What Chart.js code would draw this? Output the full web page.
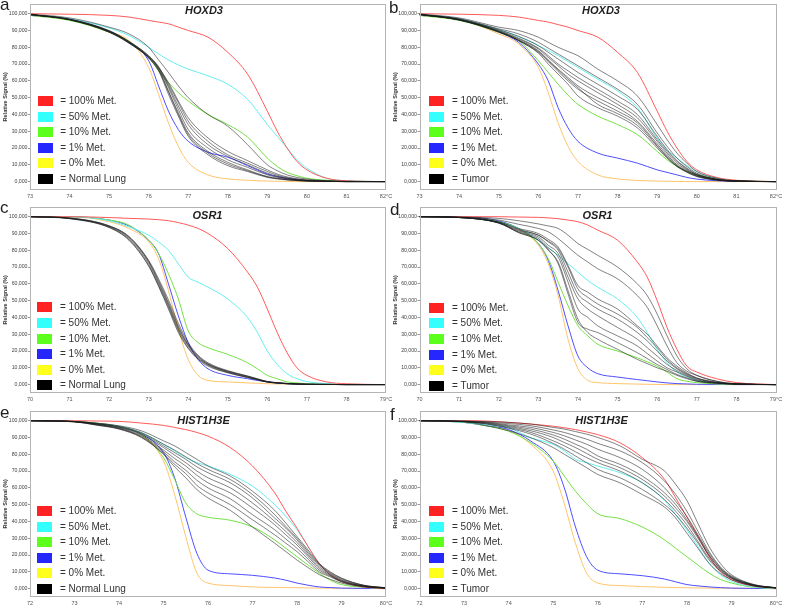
<!DOCTYPE html>
<html>
<head>
<meta charset="utf-8">
<script src="https://cdn.jsdelivr.net/npm/chart.js@4.4.1/dist/chart.umd.min.js"></script>
<style>
html,body{margin:0;padding:0;background:#fff;}
body{width:787px;height:612px;position:relative;overflow:hidden;font-family:"Liberation Sans",Arial,sans-serif;}
canvas{position:absolute;}
.letter{position:absolute;font-size:17px;line-height:17px;color:#1e1e1e;}
.title{position:absolute;font-weight:bold;font-style:italic;font-size:11px;line-height:11px;color:#1e1e1e;white-space:nowrap;transform:translateX(-50%);}
.sw{position:absolute;width:15px;height:10px;}
.lab{position:absolute;font-size:10px;line-height:10px;color:#333;white-space:nowrap;}
</style>
</head>
<body>
<script>
// temperature grids (°C)
const hoxTemps  = [73,74,75,75.5,76,76.25,76.5,76.75,77,77.5,78,78.5,79,79.25,79.5,79.75,80,80.5,81,82];
const osrTemps  = [70,71,72,72.5,73,73.25,73.5,73.75,74,74.25,74.5,75,75.5,75.75,76,76.25,76.5,76.75,77,77.5,78,79];
const histTemps = [72,73,73.5,74,74.5,75,75.25,75.5,75.75,76,76.5,77,77.5,77.75,78,78.25,78.5,78.75,79,79.5,80];

// a: HOXD3 normal lung
const aRed    = [100,99.7,99,98,96,95,94,92,90,86,77,64,42,30,20,12,7,2,0.5,0];
const aCyan   = [99.5,97,91.5,87,80,76,72.5,69.5,67,63,58,49,34,27,20,13,8,2,0.5,0];
const aGreen  = [99,96,89,83.5,74,66,59,53,48,40,34,26.5,14,9,5.5,3.5,2,0.8,0.3,0];
const aBlue   = [99,96.5,89.5,83,72,57,42,31,24,17.5,14.5,9.5,4.5,3,1.8,1,0.6,0.2,0,0];
const aYellow = [99,96.5,89,84,68,52,35,21,11.5,4,1.6,0.8,0.3,0.2,0.1,0,0,0,0,0];
const aSamples = [
  [99.5,96.5,89.5,83,74.5,68,57,45,34,22,15,10,5,3.2,2,1.2,0.7,0.3,0,0],
  [99.5,96.5,89,82.5,74,67,54,41,29,18,11.5,7,3,2,1.2,0.7,0.4,0.1,0,0],
  [99.5,96.8,90,83.5,75,68.5,58,47,36,24,16,11,6,3.8,2.3,1.4,0.8,0.3,0.1,0],
  [99.5,96.3,89,82.5,73.5,66,52,39,27,16,9.5,6,2.5,1.6,1,0.6,0.3,0.1,0,0],
  [99.5,96.6,89.6,83.2,74.2,67.5,56,43,31,20,13,8.5,4,2.6,1.6,1,0.5,0.2,0,0],
  [99.5,96.4,89.2,82.8,73.8,66.5,53.5,40,28,17,10.5,6.5,2.8,1.8,1.1,0.6,0.3,0.1,0,0],
  [99.5,96.7,89.8,83.5,74.8,68,59,48,38,26,18,12.5,7,4.5,2.8,1.7,1,0.4,0.1,0],
  [99.8,97.5,92,88,80,72.5,65,57,50,40,33,22,10,6.5,4,2.5,1.5,0.5,0.1,0]
];

// b: HOXD3 tumor
const bRed    = [100,99.7,99,98,96,95,93.5,92,90,86,77,65,42,30,20,12,7,2.5,0.8,0];
const bCyan   = [99.5,97,90.5,86.5,81,78,75,71.5,68,61,54,44,26,19,14,9.5,6,2,0.5,0];
const bGreen  = [99,96,89,84,72,65,58,51.5,46,39,34,28,18,13,9,6,4,1.5,0.5,0];
const bBlue   = [99,96.5,89,83,70,60,44,32,24,17,14,11,7,5.5,4,2.5,1.5,0.5,0.1,0];
const bYellow = [99,96.5,88,82,68,53,35,21,12,4,1.6,0.7,0.3,0.2,0.1,0,0,0,0,0];
const bSamples = [
  [99.8,97.5,92,90,86,83,80,77.5,75,67,60,51,34,25,17,11,6,2,0.5,0],
  [99.7,97,91,88,83,79.5,76,72.5,69,62,55,46,29,21,14,9,5,1.5,0.4,0],
  [99.6,96.8,90.5,86.5,81,77,73,69,65,58,51,43,27,19,12.5,8,4.5,1.4,0.4,0],
  [99.5,96.5,90,85.5,79.5,75,70,66,62,55,48,40,25,18,12,7.5,4.2,1.3,0.3,0],
  [99.5,96.5,89.8,85,79,74,69,64,60,53,46,38,24,17,11,7,4,1.2,0.3,0],
  [99.5,96.4,89.5,84.5,78,72.5,67,62,57,50,44,36,22.5,16,10,6.5,3.7,1.1,0.3,0],
  [99.5,96.3,89.3,84,77,71.5,65.5,60,55,48,42,35,21.5,15,9.5,6,3.4,1,0.3,0],
  [99.5,96.2,89,84,76.5,70,64,58,51,44,39,32,20,14,9,5.5,3,0.9,0.2,0],
  [99.5,96.3,89.2,84.2,77.5,72,66.5,61,56,46,40.5,33.5,21,14.5,9.2,5.8,3.2,1,0.3,0]
];

// c: OSR1 normal lung
const cRed    = [100,100,99.5,99,98.6,98.2,97.6,96.5,95,93,90,81,67,58,45,31,19,10,5.5,1.6,0.5,0];
const cCyan   = [100,100,97.6,94,89,85,80,72,64,61,58,51,40,31,20,12,6.5,3.5,1.8,0.6,0.2,0];
const cGreen  = [100,100,98,95,86,78,66,51,32,25,22,18,13,9.4,5.5,3.5,1.6,1,0.5,0.2,0.1,0];
const cBlue   = [100,100,98,94.5,86,78,60,41,25,15,9.4,5.5,3.5,2.5,1.6,1,0.5,0.3,0.2,0.1,0,0];
const cYellow = [100,100,97,93,85,75,56,33,15,5.5,2.5,1.6,1,0.8,0.5,0.4,0.3,0.2,0.1,0,0,0];
const cSamples = [
  [100,99.2,94.5,88,73.5,62,49,35,24,17,12.5,8,5,3.3,1.8,1.1,0.7,0.4,0.2,0.1,0,0],
  [100,98.8,93.5,86,70.5,58.5,45,31,21.5,15,11,7,4.2,2.8,1.5,0.9,0.5,0.3,0.2,0.1,0,0],
  [100,99,94,87,72,60,47,33,23,16,12,7.5,4.5,3,1.6,1,0.6,0.4,0.2,0.1,0,0],
  [100,99.1,94.3,87.6,73,61,48,34,23.5,16.5,12.2,7.8,4.8,3.2,1.7,1,0.6,0.4,0.2,0.1,0,0],
  [100,98.9,93.7,86.4,71,59,46,32,22,15.5,11.5,7.2,4.3,2.9,1.5,0.9,0.5,0.3,0.2,0.1,0,0],
  [100,99.2,94.6,88.3,74,63,50.5,36.5,25,17.5,13,8.3,5.2,3.5,1.9,1.2,0.7,0.4,0.2,0.1,0,0]
];

// d: OSR1 tumor
const dRed    = [100,100,100,99.8,99.6,99.3,98.8,98,97,95,92,86,73,64,50,34,21,11,7.5,3.5,1.2,0];
const dCyan   = [100,99.8,96.7,93,86,81.5,77,72,67,62,58,51,40,31,21,13,7.5,4.5,2.5,1,0.3,0];
const dGreen  = [100,99.8,97,93,84,75,61,47,35,29,24,20,16,13.5,11,7.5,3.5,2,1.2,0.4,0.1,0];
const dBlue   = [100,99.8,97.5,93,84,74,56,35,17,10,6.5,4.5,3,2.3,1.6,1,0.6,0.4,0.2,0.1,0,0];
const dYellow = [100,99.8,97,92.5,83,72,53,27,9.4,2.5,1.2,0.6,0.3,0.2,0.1,0,0,0,0,0,0,0];
const dSamples = [
  [100,99.8,99,97.6,95.7,94.5,93,89,84,80.5,77,70,60,53,42,29,17,9.4,5.5,2,0.5,0],
  [100,99.7,98,95.5,93,91,87,82,77,73,69,63,53,46,35,23,13,8,5.5,2,0.5,0],
  [100,99.6,97,93,90,86.5,82,71,59,55,51,45,35,30,23,16,11,7,4,1.5,0.4,0],
  [100,99.5,96.5,92,89,85,80,67,54,49,45,39,31,26,20,14,9.4,6,3.5,1.2,0.3,0],
  [100,99.5,96.5,91.5,88,83,78,64,51,45,41,34,27,22,17,12,8.4,5.5,3,1,0.3,0],
  [100,99.5,96.3,91,87,81.5,76,61,45,40,35,29,23,18.5,14,10,7.5,5,2.5,1,0.3,0],
  [100,99.5,96.2,90.5,86,80,73,56,39,31,27,21,15,12.5,10,8,5.5,3.5,2,0.8,0.3,0],
  [100,99.5,96.2,90.7,86,80.5,72,54,37,33,31,25,19,15.5,12,9,6,4,2,0.8,0.3,0],
  [100,99.6,96.8,92.5,89,85.5,81,70,57,52,48,42,34,28,22,15,10,6.5,3.8,1.3,0.3,0]
];

// e: HIST1H3E normal lung
const eRed    = [100,100,99.8,99.6,98.6,97.2,96,94.7,93,90.8,84,73,57,46,36,25,15,8,4.3,1,0];
const eCyan   = [100,99.5,98,96.7,92.7,86,82,78,75,73,68,61,50,43,35,25,15,8,4.3,1,0];
const eGreen  = [100,99.5,98.5,96.5,92,78,65,51,44.5,42.5,40.7,36.7,29,24,19,14,9.2,5,2.4,0.8,0];
const eBlue   = [100,99.5,98.5,96.5,92,81,66,42.6,21,11,8.8,7.9,6.3,5,3.3,2,1,0.6,0.3,0.1,0];
const eYellow = [100,99.5,98.5,96.5,91.5,76,56,31,9.2,3.3,1.8,1,0.7,0.6,0.5,0.4,0.3,0.25,0.2,0.1,0];
const eSamples = [
  [100,99.6,98.5,97,94,88,85,81,77,73,67,58,46.6,39,31,23,15,10,6.3,2,0.5],
  [100,99.5,98.3,96.5,93,86,82.5,78.5,74.5,71,65,56,44,37,30,22,14.5,9.5,6,2,0.5],
  [100,99.5,98.2,96.3,92.5,85,81,77,72.5,69,63,54,42,36,29,21,14,9,5.5,1.8,0.4],
  [100,99.5,98,96,92,84,79.5,75,70,66,60,51,40,34,27.5,20,13,8.5,5,1.6,0.4],
  [100,99.4,97.8,95.7,91.3,82.5,77.5,73,67.5,63,57,48,38,32,26,19,12,8,4.7,1.5,0.3],
  [100,99.4,97.6,95.4,90.7,81.5,75.5,70.5,64.5,60,53.5,44,35,29.5,24,17.5,11,7.5,4.3,1.4,0.3],
  [100,99.3,97.5,95.2,90.3,80.5,74,68.5,61.5,57,50,41,32,27,22,16,10,7,4,1.3,0.3],
  [100,99.3,97.3,95,90,80,72.5,66,59,54,46.6,36.7,27,22,17,12.5,8.3,5.5,3.3,1,0.2]
];

// f: HIST1H3E tumor
const fRed    = [100,100,99.8,99,98,96.7,95.8,94.7,93.3,91.7,86.8,78,65,54,42.6,31,19,10,5.3,1.5,0.3];
const fCyan   = [100,99,97.5,95.7,89.8,85.9,82,77,75,73,69,63,52.5,44,35,25,15,8.3,4.3,1,0.2];
const fGreen  = [100,99,97,93.7,86.8,76,67,58,50.5,44.6,41.7,36.7,29,24,19,14,9.2,5.5,3.3,0.8,0];
const fBlue   = [100,99,97,94.7,87.8,76,60,36.7,19,11,8.8,7.7,5.7,4,2.4,1.6,1,0.6,0.3,0.1,0];
const fYellow = [100,99,97,94.5,85.9,70,50.5,27,9.2,3.3,1.8,1.2,0.8,0.6,0.5,0.4,0.3,0.25,0.2,0.1,0];
const fSamples = [
  [100,99.8,99.5,99,98,96,95,93.5,92,90,85,77,70,62,52.5,38.7,25,15,8.3,2.5,0.5],
  [100,99.7,99.2,98.3,97,94.5,93,91,89,86.5,82,75,64,56,46,34,22,13,7.5,2.3,0.5],
  [100,99.6,99,97.5,96,93,91,88.5,86,83,78,71,60,52,43,32,21,12.5,7,2.2,0.5],
  [100,99.5,98.7,97,95,91.5,89,86,83,79,74,67,57,50,41,31,20,12,6.8,2.1,0.5],
  [100,99.5,98.5,96.5,94,90,87,84,80.5,77,72,65,55,48,40,30,19.5,11.5,6.5,2,0.4],
  [100,99.4,98.2,96,93,88,85,81.5,78,75,70,63,53,46,38,28,18,11,6.2,1.9,0.4],
  [100,99.4,98,95.5,92,86.5,83,79,75,71,66,59,50,44,36,27,17,10.5,6,1.8,0.4],
  [100,99.3,97,94,89.8,84,80,76,72,68,63,56,48.5,42,33,24,15,9,5.3,1.5,0.3]
];

const yTicks = [0,10,20,30,40,50,60,70,80,90,100];
const legendLabels = ['= 100% Met.','= 50% Met.','= 10% Met.','= 1% Met.','= 0% Met.'];
const lineColors = ['#ff5a5a','#66eeee','#74e044','#4e4eff','#ffc46c'];
const swatchColors = ['#ff2222','#33ffff','#5cff1c','#2626ff','#ffff1c','#000000'];

const panels = [
  {letter:'a',lx:0,  ly:-4.5, title:'HOXD3',   tx:204,  ty:4.5, left:0,   top:0,   w:400, yW:30,  padR:14, temps:hoxTemps,  xMin:73,xMax:82, std:[aRed,aCyan,aGreen,aBlue,aYellow], samples:aSamples, sample:'= Normal Lung', gx:37.5, gy:96},
  {letter:'b',lx:389,ly:-1,   title:'HOXD3',   tx:601,  ty:4.5, left:390, top:0,   w:397, yW:29.5,padR:11, temps:hoxTemps,  xMin:73,xMax:82, std:[bRed,bCyan,bGreen,bBlue,bYellow], samples:bSamples, sample:'= Tumor',       gx:429.3,gy:96},
  {letter:'c',lx:0,  ly:199,  title:'OSR1',    tx:207.5,ty:209.5,left:0,  top:203, w:400, yW:30,  padR:14, temps:osrTemps,  xMin:70,xMax:79, std:[cRed,cCyan,cGreen,cBlue,cYellow], samples:cSamples, sample:'= Normal Lung', gx:37.3, gy:302.3},
  {letter:'d',lx:390,ly:200.5,title:'OSR1',    tx:597.5,ty:209.5,left:390,top:203, w:397, yW:29.5,padR:11, temps:osrTemps,  xMin:70,xMax:79, std:[dRed,dCyan,dGreen,dBlue,dYellow], samples:dSamples, sample:'= Tumor',       gx:429.3,gy:302.7},
  {letter:'e',lx:0,  ly:404,  title:'HIST1H3E',tx:203.5,ty:414.5,left:0,  top:407, w:400, yW:30,  padR:14, temps:histTemps, xMin:72,xMax:80, std:[eRed,eCyan,eGreen,eBlue,eYellow], samples:eSamples, sample:'= Normal Lung', gx:37.3, gy:506},
  {letter:'f',lx:390,ly:405.5,title:'HIST1H3E',tx:601.5,ty:415,  left:390,top:407, w:397, yW:29.5,padR:11, temps:histTemps, xMin:72,xMax:80, std:[fRed,fCyan,fGreen,fBlue,fYellow], samples:fSamples, sample:'= Tumor',       gx:429.3,gy:506}
];

const tickFont = "'Liberation Sans',Arial,sans-serif";
const fmtY = (v)=>v.toFixed(3).replace('.', ',');

const framePlugin = {
  id:'frame',
  afterDatasetsDraw(chart){
    const a = chart.chartArea, ctx = chart.ctx;
    ctx.save();
    ctx.strokeStyle = '#b4b4b4';
    ctx.lineWidth = 1;
    ctx.strokeRect(Math.round(a.left)+0.5, Math.round(a.top)+0.5, Math.round(a.right-a.left)-1, Math.round(a.bottom-a.top)-1);
    ctx.restore();
  }
};

function addEl(cls, text, x, y, extra){
  const el = document.createElement('div');
  el.className = cls;
  if(text) el.textContent = text;
  el.style.left = x+'px'; el.style.top = y+'px';
  if(extra) Object.assign(el.style, extra);
  document.body.appendChild(el);
  return el;
}

function series(temps, vals, color, width){
  return {
    data: temps.map((t,i)=>({x:t, y:vals[i]})),
    borderColor: color, borderWidth: width, pointRadius: 0,
    cubicInterpolationMode: 'monotone', fill: false
  };
}

panels.forEach(p=>{
  const cv = document.createElement('canvas');
  cv.width = p.w; cv.height = 204;
  cv.style.left = p.left+'px'; cv.style.top = p.top+'px';
  cv.style.width = p.w+'px'; cv.style.height = '204px';
  document.body.appendChild(cv);

  // sample curves first so they are painted on top
  const datasets = [];
  p.samples.forEach(s=>datasets.push(series(p.temps, s, 'rgba(28,28,28,0.55)', 1)));
  p.std.forEach((s,k)=>datasets.push(series(p.temps, s, lineColors[k], 1)));

  new Chart(cv, {
    type: 'line',
    data: {datasets},
    options: {
      responsive: false, animation: false, events: [],
      layout: {padding: {left:0, right:p.padR, top:3, bottom:0}},
      plugins: {legend:{display:false}, tooltip:{enabled:false}},
      scales: {
        x: {
          type:'linear', min:p.xMin, max:p.xMax,
          ticks: {stepSize:1, autoSkip:false, maxRotation:0, padding:3.5, color:'#555',
                  font:{size:5.5, family:tickFont},
                  callback:(v)=> v===p.xMax ? v+'°C' : String(v)},
          grid: {display:false, drawTicks:false},
          border: {display:false},
          afterFit: (s)=>{ s.height = 14; }
        },
        y: {
          min:-5, max:106,
          afterBuildTicks: (s)=>{ s.ticks = yTicks.map(v=>({value:v})); },
          ticks: {padding:0.5, color:'#444', font:{size:5.2, family:tickFont}, callback:(v)=>fmtY(v)},
          grid: {drawOnChartArea:false, tickLength:2, color:'#999'},
          border: {display:false},
          title: {display:true, text:'Relative Signal (%)', color:'#333',
                  font:{size:5.5, weight:'bold', family:tickFont}, padding:{top:2, bottom:0}},
          afterFit: (s)=>{ s.width = p.yW; }
        }
      }
    },
    plugins: [framePlugin]
  });

  addEl('letter', p.letter, p.lx, p.ly);
  addEl('title', p.title, p.tx, p.ty);
  const labels = legendLabels.concat([p.sample]);
  labels.forEach((t,i)=>{
    const y = p.gy + i*15.6;
    addEl('sw', '', p.gx, y, {background: swatchColors[i]});
    addEl('lab', t, p.gx+22.7, y);
  });
});
</script>
</body>
</html>
